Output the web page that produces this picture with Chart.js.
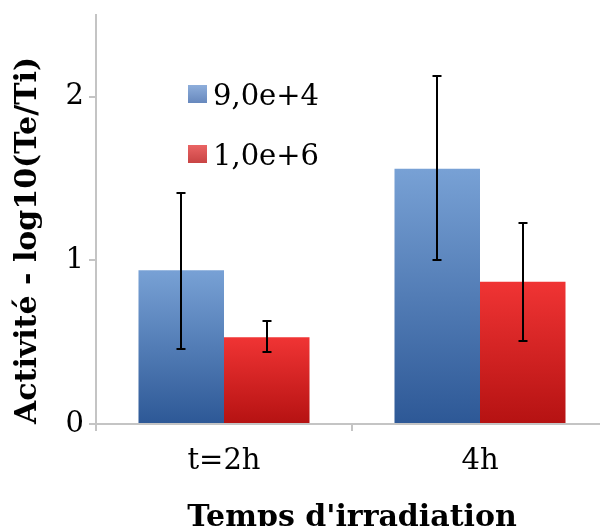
<!DOCTYPE html>
<html>
<head>
<meta charset="utf-8">
<script src="https://cdn.jsdelivr.net/npm/chart.js@4.4.1/dist/chart.umd.min.js"></script>
<style>
  html, body { margin: 0; padding: 0; overflow: hidden; background: #fff; }
  #wrap { width: 608px; height: 540px; }
</style>
</head>
<body>
<div id="wrap"><canvas id="chart"></canvas></div>
<script>
// data
const categories = ['t=2h', '4h'];
const seriesLabels = ['9,0e+4', '1,0e+6'];
const lowDose = [0.94, 1.56];
const highDose = [0.53, 0.87];
const lowDoseErr = [[0.46, 1.41], [1.00, 2.13]];
const highDoseErr = [[0.44, 0.63], [0.51, 1.23]];
const yTicks = [0, 1, 2];

const tickFont = { family: 'DejaVu Serif', size: 29 };
const titleFont = { family: 'DejaVu Serif', size: 30, weight: 'bold', lineHeight: 1.2 };
const axisGray = '#c4c4c4';

function barFill(top, bottom) {
    return function(ctx) {
        const chart = ctx.chart;
        const y = chart.scales.y;
        if (!y || ctx.type !== 'data') return top;
        const y0 = y.getPixelForValue(ctx.raw);
        const y1 = y.getPixelForValue(0);
        if (!isFinite(y0) || !isFinite(y1) || y0 === y1) return top;
        const g = chart.ctx.createLinearGradient(0, y0, 0, y1);
        g.addColorStop(0, top);
        g.addColorStop(1, bottom);
        return g;
    };
}

const errorBars = {
    id: 'errorBars',
    afterDatasetsDraw(chart) {
        const ctx = chart.ctx;
        const y = chart.scales.y;
        ctx.save();
        ctx.strokeStyle = '#000';
        ctx.lineWidth = 2;
        chart.data.datasets.forEach((ds, i) => {
            const meta = chart.getDatasetMeta(i);
            meta.data.forEach((bar, j) => {
                const [lo, hi] = ds.errors[j];
                const yl = Math.round(y.getPixelForValue(lo));
                const yh = Math.round(y.getPixelForValue(hi));
                const x = Math.round(bar.x);
                ctx.beginPath();
                ctx.moveTo(x, yl); ctx.lineTo(x, yh);
                ctx.moveTo(x - 4.5, yl); ctx.lineTo(x + 4.5, yl);
                ctx.moveTo(x - 4.5, yh); ctx.lineTo(x + 4.5, yh);
                ctx.stroke();
            });
        });
        ctx.restore();
    }
};

// legend sits inside the plot, top left
const innerLegend = {
    id: 'innerLegend',
    afterDraw(chart) {
        const ctx = chart.ctx;
        const area = chart.chartArea;
        ctx.save();
        chart.data.datasets.forEach((ds, i) => {
            const cx = area.left + 92;
            const cy = area.top + 79 + i * 60;
            const g = ctx.createLinearGradient(0, cy - 9, 0, cy + 9);
            g.addColorStop(0, ds.legendColors[0]);
            g.addColorStop(1, ds.legendColors[1]);
            ctx.fillStyle = g;
            ctx.fillRect(cx, cy - 9, 19, 18);
            ctx.fillStyle = '#000';
            ctx.font = tickFont.size + 'px "' + tickFont.family + '"';
            ctx.textBaseline = 'middle';
            ctx.textAlign = 'left';
            ctx.fillText(ds.label, cx + 25, cy + 3);
        });
        ctx.restore();
    }
};

new Chart(document.getElementById('chart'), {
    type: 'bar',
    data: {
        labels: categories,
        datasets: [{
            label: seriesLabels[0],
            data: lowDose,
            errors: lowDoseErr,
            backgroundColor: barFill('#78a1d5', '#2d5896'),
            legendColors: ['#8eaedb', '#6788bd'],
            categoryPercentage: 0.668,
            barPercentage: 1.0
        }, {
            label: seriesLabels[1],
            data: highDose,
            errors: highDoseErr,
            backgroundColor: barFill('#f03434', '#b51212'),
            legendColors: ['#ea6464', '#c84444'],
            categoryPercentage: 0.668,
            barPercentage: 1.0
        }]
    },
    options: {
        responsive: true,
        maintainAspectRatio: false,
        animation: false,
        layout: { padding: { top: 15, left: 0, right: 0, bottom: 0 } },
        plugins: {
            legend: { display: false },
            tooltip: { enabled: false }
        },
        scales: {
            x: {
                grid: { drawOnChartArea: false, color: axisGray, lineWidth: 2, tickLength: 7 },
                border: { color: axisGray, width: 2 },
                ticks: { color: '#000', font: tickFont, padding: 13 },
                title: {
                    display: true,
                    text: 'Temps d\'irradiation',
                    color: '#000',
                    font: titleFont,
                    padding: { top: 0, bottom: 4 }
                },
                afterFit(scale) {
                    scale.height = 116;
                    scale.paddingLeft = 0;
                    scale.paddingRight = 0;
                }
            },
            y: {
                min: 0,
                max: 2.5,
                afterBuildTicks(scale) { scale.ticks = yTicks.map(v => ({ value: v })); },
                grid: { drawOnChartArea: false, color: axisGray, lineWidth: 2, tickLength: 7 },
                border: { color: axisGray, width: 2 },
                ticks: { color: '#000', font: tickFont, padding: 5 },
                title: {
                    display: true,
                    text: 'Activité - log10(Te/Ti)',
                    color: '#000',
                    font: titleFont,
                    align: 'start',
                    padding: { top: 10, bottom: 0 }
                },
                afterFit(scale) {
                    scale.width = 96;
                    scale.paddingTop = 0;
                    scale.paddingBottom = 0;
                }
            }
        }
    },
    plugins: [errorBars, innerLegend]
});
</script>
</body>
</html>
